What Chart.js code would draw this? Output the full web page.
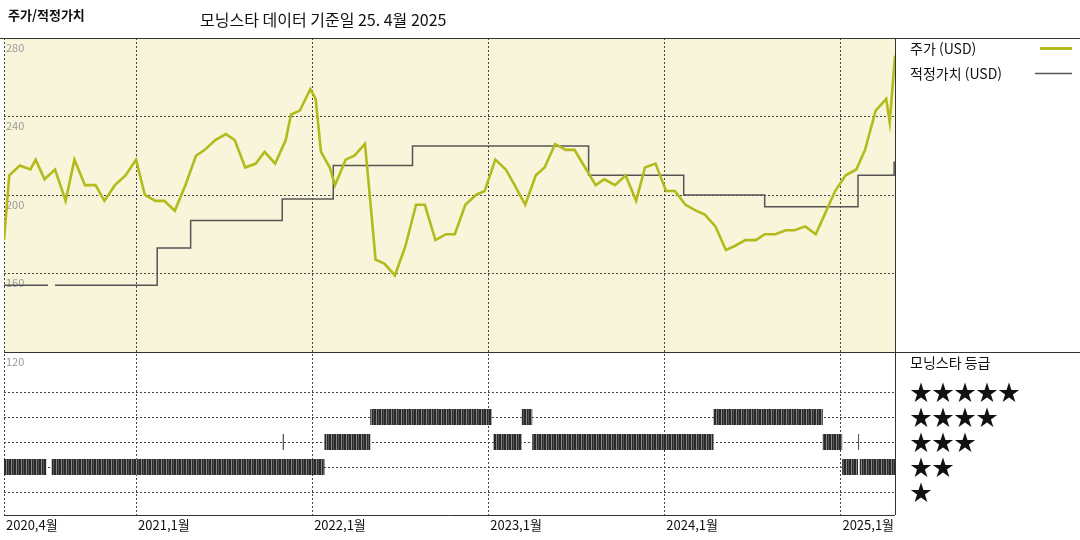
<!DOCTYPE html>
<html lang="ko">
<head>
<meta charset="UTF-8">
<title>주가/적정가치</title>
<script src="https://cdn.jsdelivr.net/npm/chart.js"></script>
<style>
  body { margin: 0; background: #fff; }
  #wrap { position: relative; width: 1080px; height: 540px; }
</style>
</head>
<body>
<div id="wrap"><canvas id="c" width="1080" height="540"></canvas></div>
<script>
// x = fractional year
const priceDates = [2020.25,2020.28,2020.34,2020.40,2020.43,2020.48,2020.54,2020.60,2020.65,2020.71,2020.77,2020.82,2020.88,2020.94,2021.00,2021.05,2021.11,2021.16,2021.22,2021.28,2021.34,2021.39,2021.45,2021.51,2021.56,2021.62,2021.68,2021.73,2021.79,2021.85,2021.88,2021.93,2021.99,2022.02,2022.05,2022.10,2022.13,2022.19,2022.24,2022.30,2022.33,2022.36,2022.41,2022.47,2022.53,2022.59,2022.64,2022.70,2022.76,2022.81,2022.87,2022.93,2022.98,2023.04,2023.10,2023.15,2023.21,2023.27,2023.32,2023.38,2023.44,2023.49,2023.55,2023.61,2023.66,2023.72,2023.78,2023.84,2023.89,2023.95,2024.01,2024.06,2024.12,2024.18,2024.23,2024.29,2024.35,2024.40,2024.46,2024.52,2024.57,2024.63,2024.69,2024.74,2024.80,2024.86,2024.91,2024.97,2025.03,2025.09,2025.14,2025.20,2025.26,2025.28,2025.31];
const priceValues = [177,210,215,213,218,208,213,197,218,205,205,197,205,210,218,200,197,197,192,205,220,223,228,231,228,214,216,222,216,228,241,243,254,249,222,214,205,218,220,226,197,167,165,159,174,195,195,177,180,180,195,200,202,218,213,205,195,210,214,226,223,223,214,205,208,205,210,197,214,216,202,202,195,192,190,184,172,174,177,177,180,180,182,182,184,180,190,202,210,213,223,243,249,237,271];

const fairDates = [2020.25,2020.50,2020.50,2020.54,2021.12,2021.12,2021.31,2021.31,2021.83,2021.83,2022.12,2022.12,2022.57,2022.57,2023.57,2023.57,2024.11,2024.11,2024.57,2024.57,2025.10,2025.10,2025.305,2025.305];
const fairValues = [154,154,null,154,154,173,173,187,187,198,198,215,215,225,225,210,210,200,200,194,194,210,210,217];

// 모닝스타 등급 구간 [시작, 끝, 별 개수]
const ratingSegments = [
  [2020.25,2020.49,2],[2020.52,2022.07,2],[2021.833,2021.840,3],[2022.07,2022.33,3],
  [2022.33,2023.02,4],[2023.03,2023.19,3],[2023.19,2023.25,4],[2023.25,2024.28,3],
  [2024.28,2024.90,4],[2024.90,2025.01,3],[2025.01,2025.10,2],[2025.100,2025.106,3],
  [2025.11,2025.31,2]
];

const xTicks = [2020.25,2021,2022,2023,2024,2025];
const xLabels = ['2020,4월','2021,1월','2022,1월','2023,1월','2024,1월','2025,1월'];
const priceTicks = [280,240,200,160,120];
const starRows = [5,4,3,2,1];

const FONT = '"Noto Sans CJK KR", "Noto Sans", sans-serif';

// 줄무늬 패턴
const pc = document.createElement('canvas');
pc.width = 5; pc.height = 1;
const pctx = pc.getContext('2d');
pctx.fillStyle = '#2a2a2a'; pctx.fillRect(0, 0, 5, 1);
pctx.fillStyle = '#888'; pctx.fillRect(1, 0, 1, 1);
pctx.fillStyle = '#555'; pctx.fillRect(3, 0, 1, 1);
const stripe = document.getElementById('c').getContext('2d').createPattern(pc, 'repeat');

const ratingData = [];
ratingSegments.forEach(s => {
  ratingData.push({ x: s[0], y: s[2] }, { x: s[1], y: s[2] }, { x: s[1], y: null });
});

const framePlugin = {
  id: 'frame',
  beforeDatasetsDraw(chart) {
    const { ctx, chartArea: a, scales } = chart;
    const y = scales.y, y2 = scales.y2, x = scales.x;
    const mid = y.getPixelForValue(120);
    ctx.save();
    ctx.fillStyle = '#f8f5da';
    ctx.fillRect(a.left, a.top, a.right - a.left, mid - a.top);
    ctx.strokeStyle = '#444'; ctx.lineWidth = 1;
    ctx.setLineDash([2, 2]);
    ctx.beginPath();
    [240, 200, 160].forEach(v => { const p = Math.round(y.getPixelForValue(v)) + 0.5; ctx.moveTo(a.left, p); ctx.lineTo(a.right, p); });
    starRows.forEach(r => { const p = Math.round(y2.getPixelForValue(r)) + 0.5; ctx.moveTo(a.left, p); ctx.lineTo(a.right, p); });
    xTicks.forEach(t => { const p = Math.round(x.getPixelForValue(t)) + 0.5; ctx.moveTo(p, a.top); ctx.lineTo(p, a.bottom); });
    ctx.stroke();
    ctx.setLineDash([]);
    ctx.strokeStyle = '#333';
    ctx.beginPath();
    ctx.moveTo(0, a.top + 0.5); ctx.lineTo(1080, a.top + 0.5);
    ctx.moveTo(a.left, Math.round(mid) + 0.5); ctx.lineTo(1080, Math.round(mid) + 0.5);
    ctx.moveTo(a.right + 0.5, a.top); ctx.lineTo(a.right + 0.5, a.bottom);
    ctx.moveTo(a.left, a.bottom + 0.5); ctx.lineTo(a.right, a.bottom + 0.5);
    ctx.stroke();
    // price labels
    ctx.fillStyle = '#999'; ctx.font = '11px ' + FONT; ctx.textBaseline = 'top';
    priceTicks.forEach(v => ctx.fillText(String(v), a.left + 2, y.getPixelForValue(v) + 4));
    ctx.restore();
  },
  afterDraw(chart) {
    const { ctx, chartArea: a, scales } = chart;
    ctx.save();
    ctx.fillStyle = '#111';
    ctx.textBaseline = 'alphabetic';
    ctx.font = '13px ' + FONT;
    xTicks.forEach((t, i) => ctx.fillText(xLabels[i], scales.x.getPixelForValue(t) + 2, a.bottom + 15));
    ctx.font = 'bold 13px ' + FONT;
    ctx.fillText('주가/적정가치', 8, 20);
    ctx.font = '16px ' + FONT;
    ctx.fillText('모닝스타 데이터 기준일 25. 4월 2025', 200, 26);
    ctx.font = '14px ' + FONT;
    ctx.fillText('주가 (USD)', 910, 54);
    ctx.fillText('적정가치 (USD)', 910, 79);
    ctx.fillText('모닝스타 등급', 910, 368);
    ctx.strokeStyle = '#b3bb1c'; ctx.lineWidth = 3;
    ctx.beginPath(); ctx.moveTo(1040, 48.5); ctx.lineTo(1072, 48.5); ctx.stroke();
    ctx.strokeStyle = '#555'; ctx.lineWidth = 1.5;
    ctx.beginPath(); ctx.moveTo(1035, 73.5); ctx.lineTo(1072, 73.5); ctx.stroke();
    ctx.font = '22px ' + FONT; ctx.textBaseline = 'middle';
    starRows.forEach(r => ctx.fillText('★'.repeat(r), 910, scales.y2.getPixelForValue(r)));
    ctx.restore();
  }
};

new Chart(document.getElementById('c'), {
  type: 'line',
  data: {
    datasets: [
      { label: '주가 (USD)', data: priceDates.map((d, i) => ({ x: d, y: priceValues[i] })), borderColor: '#b3bb1c', borderWidth: 2.6, pointRadius: 0, yAxisID: 'y', tension: 0 },
      { label: '적정가치 (USD)', data: fairDates.map((d, i) => ({ x: d, y: fairValues[i] })), borderColor: '#555', borderWidth: 1.5, pointRadius: 0, yAxisID: 'y', spanGaps: false },
      { label: '모닝스타 등급', data: ratingData, borderColor: stripe, borderWidth: 16, borderCapStyle: 'butt', pointRadius: 0, yAxisID: 'y2', spanGaps: false }
    ]
  },
  options: {
    responsive: false, animation: false,
    layout: { padding: { left: 4, right: 185, top: 38, bottom: 25 } },
    plugins: { legend: { display: false }, tooltip: { enabled: false } },
    scales: {
      x: { type: 'linear', min: 2020.25, max: 2025.31, display: false },
      y: { min: 36.9, max: 280, display: false },
      y2: { min: 0.08, max: 19.16, display: false }
    }
  },
  plugins: [framePlugin]
});
</script>
</body>
</html>
